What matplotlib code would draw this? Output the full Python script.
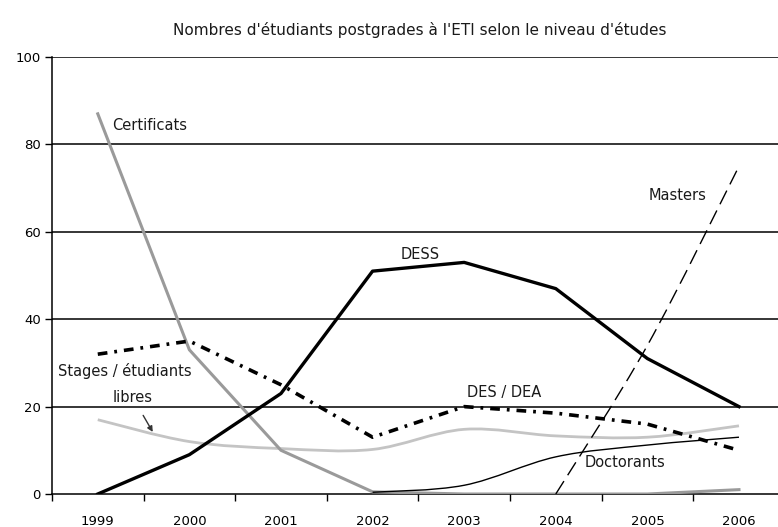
import matplotlib
matplotlib.use("Agg")
import matplotlib.pyplot as plt
import numpy as np
from matplotlib.path import Path
from matplotlib.patches import PathPatch

plt.rcParams["font.family"] = ["DejaVu Sans"]
plt.rcParams["lines.scale_dashes"] = False

YEARS = ["1999", "2000", "2001", "2002", "2003", "2004", "2005", "2006"]

certificats = [87, 33, 10, 0.5, 0, 0, 0, 1]
dess = [0, 9, 23, 51, 53, 47, 31, 20]
des_dea = [32, 35, 25, 13, 20, 18.5, 16, 10]
stages = [17, 12, 10.4, 10.2, 14.8, 13.3, 13, 15.6]
doctorants = [None, None, None, 0.4, 2, 8.5, 11.2, 13]
masters = [None, None, None, None, None, 0, 34, 75]

Y_TICKS = [0, 20, 40, 60, 80, 100]


def series_xy(values):
    xs = [i for i, v in enumerate(values) if v is not None]
    ys = [v for v in values if v is not None]
    return np.array(xs, float), np.array(ys, float)


def smooth_path(values):
    # Excel-style smoothed line: cubic Bezier through every point
    xs, ys = series_xy(values)
    pts = np.column_stack([xs, ys])
    n = len(pts)
    verts = [pts[0]]
    codes = [Path.MOVETO]
    for i in range(n - 1):
        p0 = pts[max(i - 1, 0)]
        p1 = pts[i]
        p2 = pts[i + 1]
        p3 = pts[min(i + 2, n - 1)]
        verts += [p1 + (p2 - p0) / 6, p2 - (p3 - p1) / 6, p2]
        codes += [Path.CURVE4] * 3
    return Path(verts, codes)


fig = plt.figure(figsize=(7.78, 5.27), dpi=100)
ax = fig.add_axes([0.0668, 0.0626, 0.9332, 0.8292])

x = np.arange(len(YEARS))

for y in Y_TICKS[1:]:
    ax.axhline(y, color="black", lw=1.1, zorder=1)

ax.add_patch(PathPatch(smooth_path(stages), fill=False, edgecolor="#c4c4c4",
                       lw=2.0, zorder=2))
ax.plot(*series_xy(certificats), color="#9a9a9a", lw=2.2, zorder=3)
ax.plot(*series_xy(des_dea), color="black", lw=2.6, zorder=4,
        dashes=[7, 5, 2, 5])
ax.plot(*series_xy(dess), color="black", lw=2.4, zorder=5)
ax.add_patch(PathPatch(smooth_path(doctorants), fill=False, edgecolor="black",
                       lw=1.0, zorder=5))
ax.add_patch(PathPatch(smooth_path(masters), fill=False, edgecolor="black",
                       lw=1.0, zorder=5, linestyle=(0, (11, 5))))

ax.set_xlim(-0.5, 7.426)
ax.set_ylim(0, 100)
ax.set_yticks(Y_TICKS)
ax.set_yticklabels([str(v) for v in Y_TICKS], fontsize=9.5)
ax.set_xticks(np.arange(-0.5, 7.5, 1.0))
ax.set_xticklabels([])
ax.set_xticks(x, minor=True)
ax.set_xticklabels(YEARS, minor=True, fontsize=9.5)
ax.tick_params(axis="x", which="minor", length=0, pad=15)
ax.tick_params(axis="x", which="major", length=5, direction="out", width=1)
ax.tick_params(axis="y", length=5, direction="out", width=1, pad=3)

for side in ["top", "right"]:
    ax.spines[side].set_visible(False)
for side in ["left", "bottom"]:
    ax.spines[side].set_linewidth(1.1)
ax.patch.set_alpha(0)

label_kw = dict(fontsize=10.5, color="#1a1a1a", va="center")
ax.text(0.153, 84.4, "Certificats", ha="left", **label_kw)
ax.text(3.52, 54.7, "DESS", ha="center", **label_kw)
ax.text(6.33, 68.2, "Masters", ha="center", **label_kw)
ax.text(4.44, 23.3, "DES / DEA", ha="center", **label_kw)
ax.text(-0.437, 28.1, "Stages / étudiants", ha="left", **label_kw)
ax.text(5.31, 7.1, "Doctorants", ha="left", **label_kw)
ax.annotate("libres", xy=(0.6, 14.2), xytext=(0.385, 22.0),
            ha="center", **label_kw,
            arrowprops=dict(arrowstyle="-|>", color="#333333", lw=1.0,
                            mutation_scale=8, shrinkA=6, shrinkB=0))

fig.text(0.54, 0.943, "Nombres d'étudiants postgrades à l'ETI selon le niveau d'études",
         ha="center", va="center", fontsize=11, color="#1a1a1a")

fig.savefig("out.png", dpi=100)
